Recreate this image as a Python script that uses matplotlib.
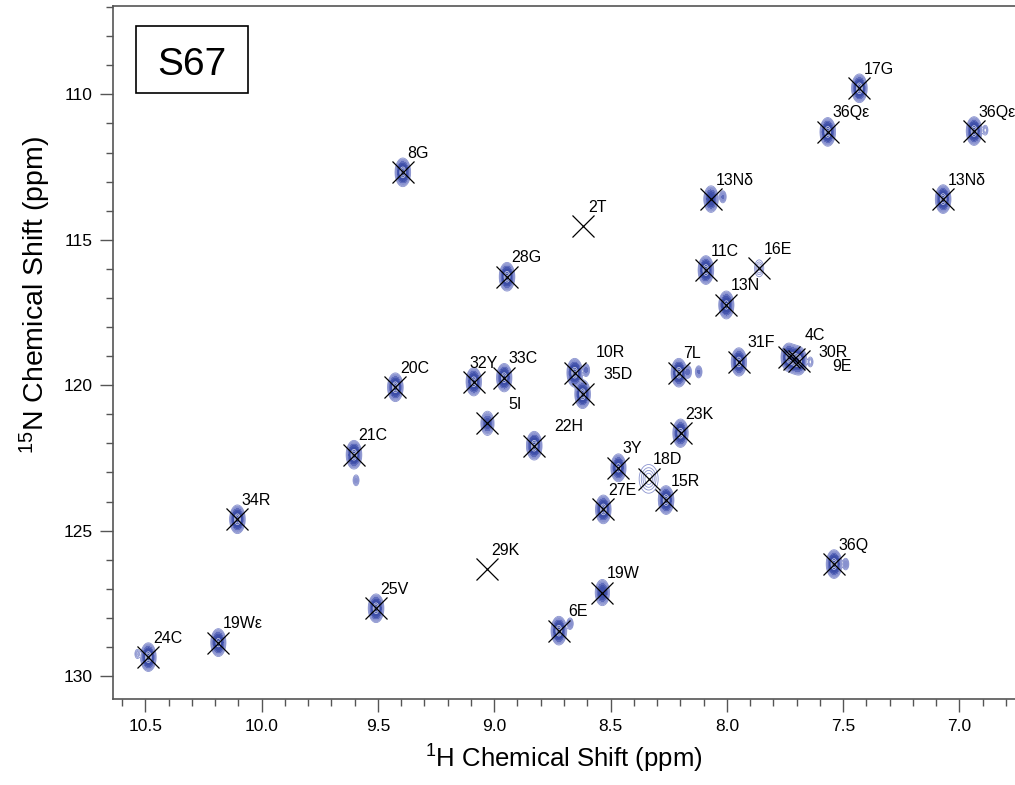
import matplotlib
matplotlib.use('Agg')
import matplotlib.pyplot as plt
from matplotlib.patches import Rectangle
from matplotlib.ticker import MultipleLocator, FormatStrFormatter
import numpy as np

plt.rcParams['font.family'] = ['Liberation Sans', 'DejaVu Sans']

# assigned peaks (1H ppm, 15N ppm, relative height)
labels = ['8G', '17G', '36Qε', '36Qε', '13Nδ', '13Nδ', '2T', '28G', '11C', '16E',
          '13N', '32Y', '33C', '10R', '35D', '7L', '31F', '4C', '30R', '9E',
          '20C', '5I', '21C', '22H', '23K', '3Y', '18D', '15R', '27E', '34R',
          '29K', '25V', '19W', '36Q', '6E', '24C', '19Wε']
h_ppm = [9.393, 7.430, 7.566, 6.937, 8.068, 7.070, 8.617, 8.945, 8.090, 7.861,
         8.002, 9.088, 8.957, 8.654, 8.620, 8.206, 7.948, 7.734, 7.711, 7.690,
         9.425, 9.029, 9.603, 8.828, 8.199, 8.466, 8.336, 8.261, 8.531, 10.104,
         9.032, 9.508, 8.535, 7.539, 8.722, 10.487, 10.186]
n_ppm = [112.68, 109.79, 111.29, 111.26, 113.60, 113.60, 114.53, 116.27, 116.04, 115.98,
         117.24, 119.88, 119.74, 119.57, 120.31, 119.57, 119.20, 119.04, 119.11, 119.16,
         120.07, 121.31, 122.39, 122.08, 121.65, 122.84, 123.22, 123.95, 124.27, 124.61,
         126.32, 127.67, 127.13, 126.15, 128.44, 129.35, 128.85]
height = [1.0, 1.0, 1.0, 1.0, 0.55, 1.0, 0.0, 1.0, 1.0, 0.05,
          0.8, 0.9, 0.9, 1.0, 1.0, 1.0, 0.9, 0.9, 0.9, 0.9,
          1.0, 0.3, 1.0, 1.0, 0.9, 0.8, 0.055, 1.0, 1.0, 1.0,
          0.0, 1.0, 0.5, 1.0, 1.0, 1.0, 0.8]

# small unassigned signals
minor_h = [8.167, 8.121, 8.605, 8.017, 6.889, 7.489, 8.674, 10.534, 7.641, 9.594]
minor_n = [119.54, 119.54, 119.48, 113.52, 111.23, 126.15, 128.20, 129.24, 119.20, 123.27]
minor_height = [0.15, 0.12, 0.15, 0.12, 0.06, 0.10, 0.10, 0.05, 0.06, 0.08]

#Region spectrum
sig_h, sig_n = 0.0115, 0.17
broad = {'18D': (2.2, 1.8), '16E': (1.1, 1.1)}

hx = np.linspace(6.7, 10.7, 1100)
ny = np.linspace(106.5, 131.5, 900)
Z = np.zeros((ny.size, hx.size))
for lab, h, n, a in zip(labels, h_ppm, n_ppm, height):
    fh, fn = broad.get(lab, (1.0, 1.0))
    gx = np.exp(-0.5 * ((hx - h) / (sig_h * fh)) ** 2)
    gy = np.exp(-0.5 * ((ny - n) / (sig_n * fn)) ** 2)
    Z += a * np.outer(gy, gx)
for h, n, a in zip(minor_h, minor_n, minor_height):
    gx = np.exp(-0.5 * ((hx - h) / (sig_h * 0.6)) ** 2)
    gy = np.exp(-0.5 * ((ny - n) / (sig_n * 0.6)) ** 2)
    Z += a * np.outer(gy, gx)
#EndRegion

fig = plt.figure(figsize=(10.15, 7.85), dpi=100)
ax = fig.add_axes([113 / 1015, 1 - 699.3 / 785, (1015 - 113) / 1015, (699.3 - 6) / 785])

ax.contour(hx, ny, Z, levels=[0.015, 0.025, 0.035, 0.045], colors='#8a93cf', linewidths=0.6)
ax.contourf(hx, ny, Z, levels=[0.06, 0.1, 0.18, 0.3, 0.6, 10],
            colors=['#8891cf', '#5f6cbb', '#4656ad', '#3d4ea8', '#3849a3'])
ax.contour(hx, ny, Z, levels=[0.55, 0.75, 0.95], colors='white', linewidths=0.5, alpha=0.8)

ax.plot(h_ppm, n_ppm, 'x', ms=15.5, mew=0.9, color='black', ls='none')

# label offsets in pixels (right, up); the rest sit up-right of the cross
offsets = {'4C': (16, 17), '30R': (24, 2.6), '9E': (33, -10), '5I': (21, 14),
           '22H': (20, 15), '10R': (21, 16), '35D': (20.6, 15.3), '6E': (9.4, 15),
           '31F': (8.7, 14.7), '32Y': (-4, 14)}
for lab, h, n in zip(labels, h_ppm, n_ppm):
    dx, dy = offsets.get(lab, (4.5, 14.5))
    ax.annotate(lab, (h, n), xytext=(dx, dy), textcoords='offset pixels',
                fontsize=11.5, ha='left', va='baseline')

ax.set_xlim(10.639, 6.761)
ax.set_ylim(130.80, 106.96)
ax.xaxis.set_major_locator(MultipleLocator(0.5))
ax.xaxis.set_minor_locator(MultipleLocator(0.1))
ax.xaxis.set_major_formatter(FormatStrFormatter('%.1f'))
ax.yaxis.set_major_locator(MultipleLocator(5))
ax.yaxis.set_minor_locator(MultipleLocator(1))
ax.tick_params(which='major', direction='out', length=9.5, width=1.0, color='#555555',
               labelsize=12.5, pad=5)
ax.tick_params(which='minor', direction='out', length=5, width=1.0, color='#555555')
ax.spines['right'].set_visible(False)
for s in ['left', 'bottom', 'top']:
    ax.spines[s].set_color('#555555')
    ax.spines[s].set_linewidth(1.2)

ax.set_xlabel(r'$\mathregular{^{1}}$H Chemical Shift (ppm)', fontsize=18.5, labelpad=6)
ax.set_ylabel(r'$\mathregular{^{15}}$N Chemical Shift (ppm)', fontsize=20.5, labelpad=8)
ax.yaxis.set_label_coords(-0.066, 0.583)

fig.patches.append(Rectangle((136 / 1015, 1 - 93 / 785), 112 / 1015, 67 / 785,
                             transform=fig.transFigure, fill=False, ec='black', lw=1.2))
fig.text(192 / 1015, 1 - 75 / 785, 'S67', fontsize=28, ha='center', va='baseline')

fig.savefig('out.png', dpi=100)
